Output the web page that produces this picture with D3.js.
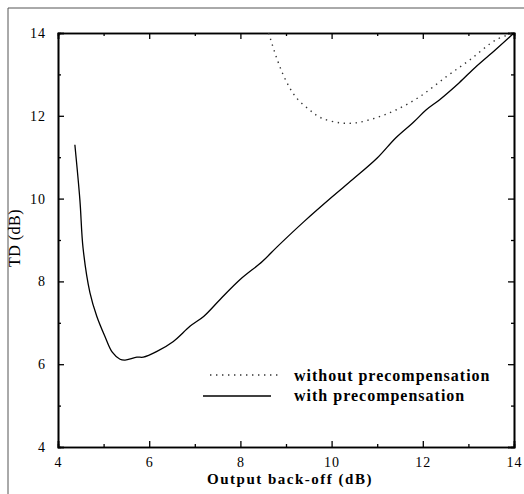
<!DOCTYPE html>
<html>
<head>
<meta charset="utf-8">
<script src="https://cdn.jsdelivr.net/npm/d3@7"></script>
<style>
  body { margin: 0; background: #fff; }
  svg { font-family: "Liberation Serif", "Times New Roman", serif; }
</style>
</head>
<body>
<svg id="svg1" width="524" height="494"></svg>
<script>
// with precompensation (solid)
var withX = [4.37, 4.48, 4.55, 4.70, 4.85, 5.03, 5.19, 5.36, 5.47, 5.73, 5.87, 6.17, 6.53, 6.90, 7.20, 7.56, 8.00, 8.48, 8.81, 9.40, 10.02, 10.46, 11.00, 11.41, 11.80, 12.07, 12.37, 12.80, 13.16, 13.60, 14.00];
var withY = [11.30, 9.97, 8.80, 7.73, 7.16, 6.67, 6.29, 6.12, 6.10, 6.17, 6.17, 6.31, 6.55, 6.92, 7.16, 7.57, 8.05, 8.48, 8.84, 9.45, 10.05, 10.46, 10.98, 11.47, 11.85, 12.14, 12.39, 12.80, 13.18, 13.60, 14.00];

// without precompensation (dotted)
var withoutX = [8.62, 8.81, 8.99, 9.21, 9.52, 9.77, 10.18, 10.53, 10.97, 11.41, 11.93, 12.51, 13.03, 13.60, 14.00];
var withoutY = [14.00, 13.35, 12.87, 12.46, 12.14, 11.95, 11.83, 11.83, 11.95, 12.14, 12.46, 12.94, 13.35, 13.83, 14.00];

var xTicks = [4, 6, 8, 10, 12, 14];
var yTicks = [4, 6, 8, 10, 12, 14];
var minorTicks = [5, 7, 9, 11, 13];

var legendLabels = ['without precompensation', 'with precompensation'];

var svg = d3.select('svg');

var marginLeft = 58, plotRight = 514, marginTop = 33, plotBottom = 447;

var x = d3.scaleLinear().domain([4, 14]).range([marginLeft, plotRight]);
var y = d3.scaleLinear().domain([4, 14]).range([plotBottom, marginTop]);

// scan border (top and left only)
svg.append('line').attr('x1', 8).attr('x2', 524).attr('y1', 8).attr('y2', 8)
    .attr('stroke', '#555').attr('stroke-width', 1);
svg.append('line').attr('x1', 8).attr('x2', 8).attr('y1', 8).attr('y2', 494)
    .attr('stroke', '#555').attr('stroke-width', 1);

// axes, ticks pointing inward
svg.append('g').attr('transform', 'translate(0,' + plotBottom + ')')
    .call(d3.axisBottom(x).tickValues(xTicks).tickSize(-6).tickPadding(10).tickFormat(d3.format('d')));
svg.append('g').attr('transform', 'translate(0,' + plotBottom + ')')
    .call(d3.axisBottom(x).tickValues(minorTicks).tickSize(-3).tickFormat(''));
svg.append('g').attr('transform', 'translate(0,' + marginTop + ')')
    .call(d3.axisTop(x).tickValues(xTicks).tickSize(-6).tickFormat(''));
svg.append('g').attr('transform', 'translate(0,' + marginTop + ')')
    .call(d3.axisTop(x).tickValues(minorTicks).tickSize(-3).tickFormat(''));
svg.append('g').attr('transform', 'translate(' + marginLeft + ',0)')
    .call(d3.axisLeft(y).tickValues(yTicks).tickSize(-6).tickPadding(12).tickFormat(d3.format('d')));
svg.append('g').attr('transform', 'translate(' + marginLeft + ',0)')
    .call(d3.axisLeft(y).tickValues(minorTicks).tickSize(-3).tickFormat(''));
svg.append('g').attr('transform', 'translate(' + plotRight + ',0)')
    .call(d3.axisRight(y).tickValues(yTicks).tickSize(-6).tickFormat(''));
svg.append('g').attr('transform', 'translate(' + plotRight + ',0)')
    .call(d3.axisRight(y).tickValues(minorTicks).tickSize(-3).tickFormat(''));

svg.selectAll('.domain').attr('stroke', '#000').attr('stroke-width', 1.6);
svg.selectAll('.tick line').attr('stroke', '#000').attr('stroke-width', 1.3);
svg.selectAll('.tick text').attr('font-family', '"Liberation Serif", serif')
    .attr('font-size', 14).attr('letter-spacing', 1).attr('fill', '#000');

// axis titles
svg.append('text')
    .attr('x', 290).attr('y', 484)
    .attr('text-anchor', 'middle')
    .attr('font-size', 15).attr('font-weight', 'bold').attr('letter-spacing', 1.5)
    .text('Output back-off (dB)');

svg.append('text')
    .attr('transform', 'translate(20,238) rotate(-90)')
    .attr('text-anchor', 'middle')
    .attr('font-size', 16).attr('letter-spacing', 0.5)
    .text('TD (dB)');

// curves
var line = d3.line()
    .x(function(d) { return x(d[0]); })
    .y(function(d) { return y(d[1]); })
    .curve(d3.curveCatmullRom);

var withData = withX.map(function(v, i) { return [v, withY[i]]; });
var withoutData = withoutX.map(function(v, i) { return [v, withoutY[i]]; });

svg.append('path')
    .datum(withData)
    .attr('d', line)
    .attr('fill', 'none').attr('stroke', '#000').attr('stroke-width', 1.3);

svg.append('path')
    .datum(withoutData)
    .attr('d', line)
    .attr('fill', 'none').attr('stroke', '#333').attr('stroke-width', 1.4)
    .attr('stroke-dasharray', '1.4,4.6');

// legend
var legend = svg.append('g');
legend.append('line').attr('x1', 210).attr('x2', 280).attr('y1', 375).attr('y2', 375)
    .attr('stroke', '#333').attr('stroke-width', 1.3).attr('stroke-dasharray', '1.4,4.6');
legend.append('line').attr('x1', 203).attr('x2', 271).attr('y1', 396).attr('y2', 396)
    .attr('stroke', '#000').attr('stroke-width', 1.5);
legend.selectAll('text.lab')
    .data(legendLabels)
    .enter()
    .append('text')
    .attr('class', 'lab')
    .attr('x', 294)
    .attr('y', function(d, i) { return 381 + i * 20; })
    .attr('font-size', 16).attr('font-weight', 'bold').attr('letter-spacing', 1)
    .text(function(d) { return d; });
</script>
</body>
</html>
